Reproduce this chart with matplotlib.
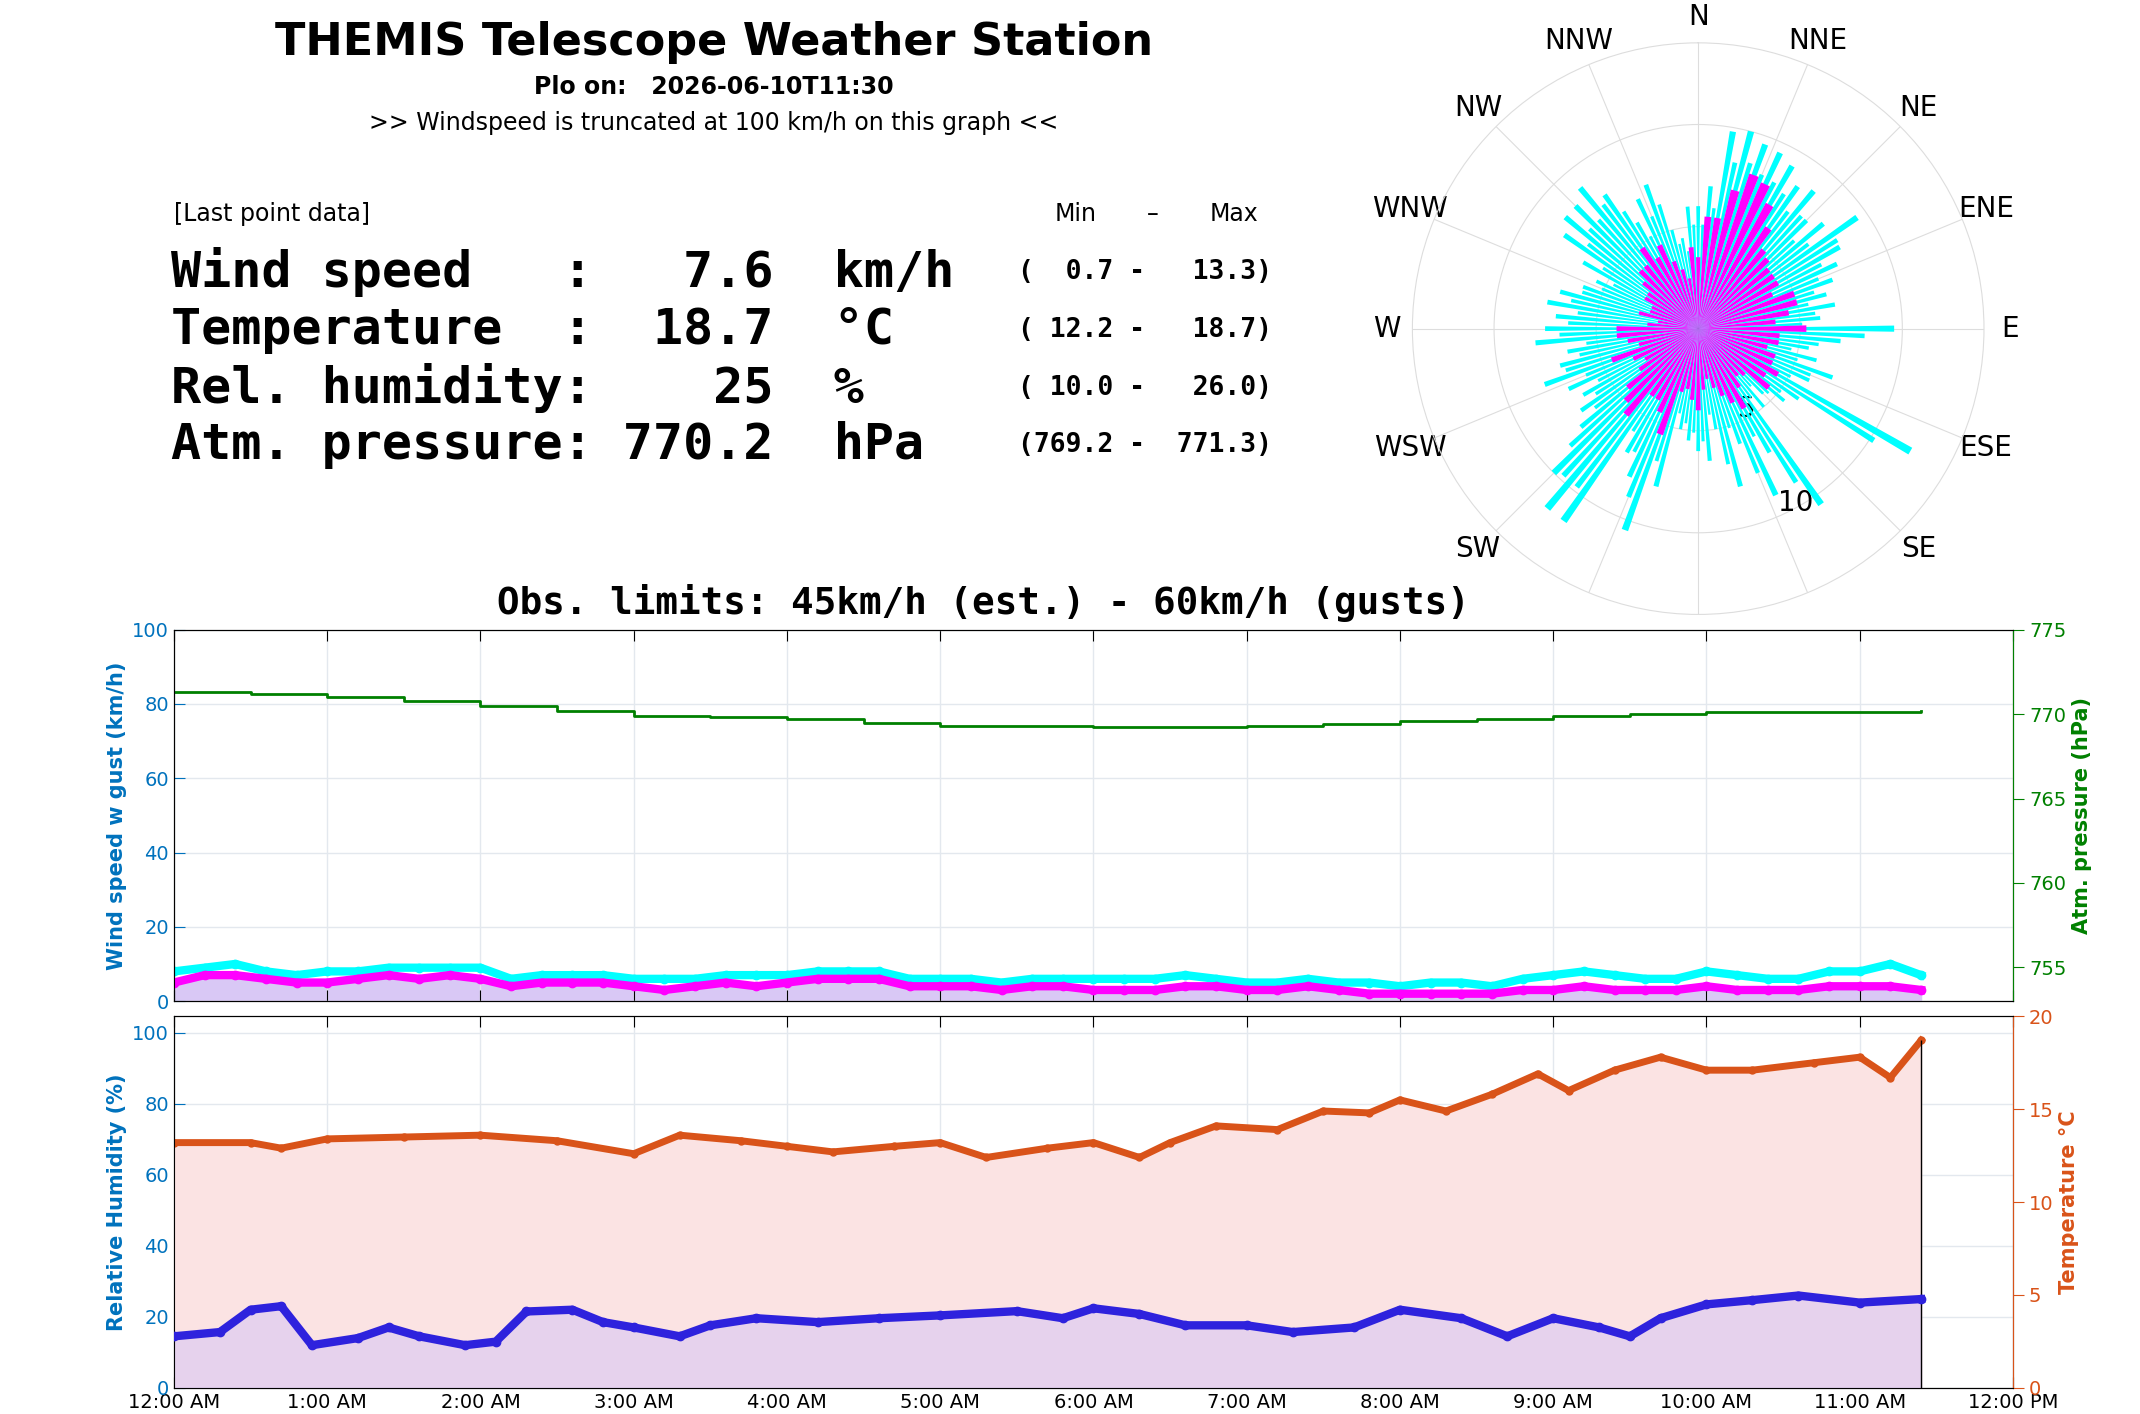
import numpy as np
import matplotlib
matplotlib.use("Agg")
import matplotlib.pyplot as plt

# ---------------- data ----------------
wind_t = [i*0.2 for i in range(58)]
wind = [5,7,7,6,5,5,6,7,6,7,6,4,5,5,5,4,3,4,5,4,5,6,6,6,4,4,4,3,4,4,
        3,3,3,4,4,3,3,4,3,2,2,2,2,2,3,3,4,3,3,3,4,3,3,3,4,4,4,3]
gust = [8,9,10,8,7,8,8,9,9,9,9,6,7,7,7,6,6,6,7,7,7,8,8,8,6,6,6,5,6,6,
        6,6,6,7,6,5,5,6,5,5,4,5,5,4,6,7,8,7,6,6,8,7,6,6,8,8,10,7]

pres_t = [0,0.5,1,1.5,2,2.5,3,3.5,4,4.5,5,5.5,6,6.5,7,7.5,8,8.5,9,9.5,10,10.5,11,11.4]
pres = [771.3,771.2,771.0,770.8,770.5,770.2,769.9,769.8,769.7,769.5,769.3,769.3,
        769.25,769.25,769.3,769.4,769.6,769.7,769.9,770.0,770.1,770.1,770.1,770.2]

temp_t = [0,0.5,0.7,1.0,1.5,2.0,2.5,3.0,3.3,3.7,4.0,4.3,4.7,5.0,5.3,5.7,6.0,6.3,6.5,
          6.8,7.2,7.5,7.8,8.0,8.3,8.6,8.9,9.1,9.4,9.7,10.0,10.3,10.7,11.0,11.2,11.4]
temp = [13.2,13.2,12.9,13.4,13.5,13.6,13.3,12.6,13.6,13.3,13.0,12.7,13.0,13.2,12.4,
        12.9,13.2,12.4,13.2,14.1,13.9,14.9,14.8,15.5,14.9,15.8,16.9,16.0,17.1,17.8,
        17.1,17.1,17.5,17.8,16.7,18.7]

hum_t = [0,0.3,0.5,0.7,0.9,1.2,1.4,1.6,1.9,2.1,2.3,2.6,2.8,3.0,3.3,3.5,3.8,4.2,4.6,
         5.0,5.5,5.8,6.0,6.3,6.6,7.0,7.3,7.7,8.0,8.4,8.7,9.0,9.3,9.5,9.7,10.0,10.3,
         10.6,11.0,11.4]
hum = [14.5,15.7,22,23,12,14,17,14.5,12,13,21.5,22,18.5,17,14.5,17.6,19.6,18.5,19.6,
       20.4,21.6,19.6,22.4,20.8,17.6,17.6,15.7,17,22,19.6,14.5,19.6,17,14.5,19.6,23.5,
       24.7,26,24,25]

rose_dir = list(range(0, 360, 5))
rose_gust = [6,7,9.8,10,9.6,9.5,9.2,8.5,8.8,7.5,8,9.5,8,7.5,7,6.5,6.8,6,9.6,7,5.5,6,7,6,
             12,6,5.5,4.5,5,10.5,7,9,6,8,5,6.5,6,5.5,5,8,10.5,8,7,11.5,11.5,10,7.5,7,
             6.5,7,8,7,6.5,8,7.5,7,7.5,7,6,5.5,6.5,8,8.5,8.5,9,8,6,7,7.5,5,4.5,6]
rose_wind = [3.5,5.5,5.5,7,8,7.8,7,6,5,4.8,4.5,4.5,4.5,4,5,5,4.5,3.8,5.3,4,4,3.5,4,4,
             4.5,4,4.5,3.2,3,3.5,4.5,4,3.5,3,2.5,3,4,3.5,3,3.2,5.5,4.5,4,4,5.5,5,4.5,
             3.5,3,3.5,4.5,3,3.5,4,4,2.5,2,3,2.5,2.5,3,3,3.5,4,4,4.8,4,4.5,3.5,3,2.5,4]
compass = ['N','NNE','NE','ENE','E','ESE','SE','','','','SW','WSW','W','WNW','NW','NNW']

hour_ticks = list(range(13))
hour_labels = ['12:00 AM'] + [f'{h}:00 AM' for h in range(1, 12)] + ['12:00 PM']

# ---------------- figure ----------------
W, H = 1550.0, 1024.0
fig = plt.figure(figsize=(21.4, 14.14), dpi=100)
fx = lambda x: x / W
fy = lambda y: 1 - y / H
BLUE = '#0072BD'; GREEN = '#008000'; ORANGE = '#D95319'
mono = 'DejaVu Sans Mono'

fig.text(fx(517), fy(31), 'THEMIS Telescope Weather Station', ha='center', va='center',
         fontsize=32, fontweight='bold')
fig.text(fx(517), fy(63), 'Plo on:   2026-06-10T11:30', ha='center', va='center',
         fontsize=17, fontweight='bold')
fig.text(fx(517), fy(89), '>> Windspeed is truncated at 100 km/h on this graph <<',
         ha='center', va='center', fontsize=17)
fig.text(fx(126), fy(155), '[Last point data]', ha='left', va='center', fontsize=17)
fig.text(fx(779), fy(155), 'Min', ha='center', va='center', fontsize=17)
fig.text(fx(835), fy(155), '–', ha='center', va='center', fontsize=17)
fig.text(fx(894), fy(155), 'Max', ha='center', va='center', fontsize=17)

rows = ['Wind speed   :   7.6  km/h', 'Temperature  :  18.7  °C',
        'Rel. humidity:    25  %', 'Atm. pressure: 770.2  hPa']
ranges = ['(  0.7 -   13.3)', '( 12.2 -   18.7)', '( 10.0 -   26.0)', '(769.2 -  771.3)']
ys = [197, 239, 281, 322]
for r, rg, y in zip(rows, ranges, ys):
    fig.text(fx(124), fy(y), r, ha='left', va='center', fontsize=36, fontweight='bold', family=mono)
    fig.text(fx(921), fy(y), rg, ha='right', va='center', fontsize=19, fontweight='bold', family=mono)

fig.text(fx(712), fy(437), 'Obs. limits: 45km/h (est.) - 60km/h (gusts)', ha='center', va='center',
         fontsize=27, fontweight='bold', family=mono)

# ---------------- polar rose ----------------
R = 207
pax = fig.add_axes([fx(1230 - R), fy(238 + R), 2 * R / W, 2 * R / H], projection='polar')
pax.set_theta_zero_location('N'); pax.set_theta_direction(-1)
th = np.deg2rad(rose_dir)
pax.bar(th, rose_gust, width=np.deg2rad(1.8), color='cyan', edgecolor='none', zorder=2)
pax.bar(th + np.deg2rad(2.5), [g * 0.85 for g in rose_gust], width=np.deg2rad(1.6),
        color='cyan', edgecolor='none', zorder=2)
pax.bar(th, rose_wind, width=np.deg2rad(3.5), color='magenta', edgecolor='none', zorder=3)
pax.set_ylim(0, 14)
pax.set_yticks([5, 10]); pax.set_yticklabels(['5', '10'], fontsize=20)
pax.set_rlabel_position(157)
pax.set_xticks(np.deg2rad(np.arange(0, 360, 22.5)))
pax.set_xticklabels(compass, fontsize=20)
pax.tick_params(axis='x', pad=8)
pax.grid(color='#dddddd', lw=0.8)
pax.spines['polar'].set_color('#dddddd')

# ---------------- wind axes ----------------
ax1 = fig.add_axes([fx(126), fy(725), (1458 - 126) / W, (725 - 456) / H])
ax1.fill_between(wind_t, 0, wind, color='#d9c8f5', zorder=1)
ax1.plot(wind_t, gust, color='cyan', lw=6, marker='o', ms=6, zorder=2)
ax1.plot(wind_t, wind, color='magenta', lw=6, marker='o', ms=6, zorder=3)
ax1.set_xlim(0, 12); ax1.set_ylim(0, 100)
ax1.set_xticks(hour_ticks); ax1.set_xticklabels([])
ax1.set_yticks(range(0, 101, 20))
ax1.set_ylabel('Wind speed w gust (km/h)', color=BLUE, fontsize=15, fontweight='bold')
ax1.tick_params(axis='y', colors=BLUE, labelsize=14, direction='in', length=8)
ax1.tick_params(axis='x', direction='in', length=8, top=True)
ax1.grid(color='#e3e8ee', lw=1)
ax1b = ax1.twinx()
ax1b.plot(pres_t, pres, color=GREEN, lw=2, drawstyle='steps-post')
ax1b.set_ylim(753, 775)
ax1b.set_yticks([755, 760, 765, 770, 775])
ax1b.set_ylabel('Atm. pressure (hPa)', color=GREEN, fontsize=15, fontweight='bold')
ax1b.tick_params(axis='y', colors=GREEN, labelsize=14, direction='out', length=8)
ax1b.spines['right'].set_color(GREEN)

# ---------------- humidity / temperature ----------------
ax2 = fig.add_axes([fx(126), fy(1005), (1458 - 126) / W, (1005 - 736) / H])
ax2.set_xlim(0, 12); ax2.set_ylim(0, 104.7)
ax2.set_xticks(hour_ticks); ax2.set_xticklabels(hour_labels, fontsize=14)
ax2.set_yticks(range(0, 101, 20))
ax2.set_ylabel('Relative Humidity (%)', color=BLUE, fontsize=15, fontweight='bold')
ax2.tick_params(axis='y', colors=BLUE, labelsize=14, direction='in', length=8)
ax2.tick_params(axis='x', direction='in', length=8, top=True)
ax2.grid(color='#e3e8ee', lw=1)
ax2b = ax2.twinx()
ax2b.fill_between(temp_t, 0, temp, color='#fbe3e3', zorder=0)
ax2b.plot(temp_t, temp, color=ORANGE, lw=5, marker='o', ms=5)
ax2b.vlines(temp_t[-1], 0, temp[-1], color='black', lw=1)
ax2b.set_ylim(0, 20)
ax2b.set_yticks([0, 5, 10, 15, 20])
ax2b.set_ylabel('Temperature °C', color=ORANGE, fontsize=15, fontweight='bold')
ax2b.tick_params(axis='y', colors=ORANGE, labelsize=14, direction='out', length=8)
ax2b.spines['right'].set_color(ORANGE)
sc = 20 / 104.7
ax2b.fill_between(hum_t, 0, [h * sc for h in hum], color='#d9c8f5', alpha=0.6, zorder=1)
ax2b.plot(hum_t, [h * sc for h in hum], color='#2e22dd', lw=6, marker='o', ms=6, zorder=3)

fig.savefig('out.png', dpi=100)
